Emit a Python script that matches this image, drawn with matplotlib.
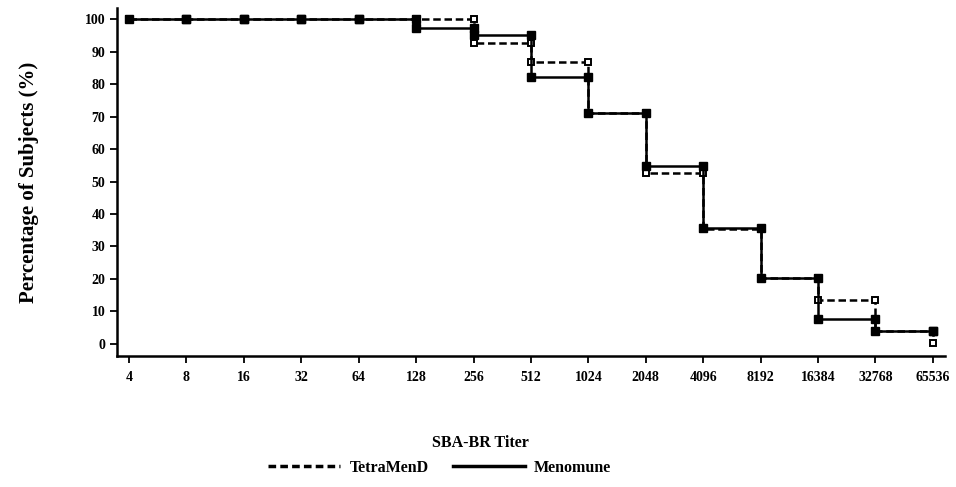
import matplotlib.pyplot as plt
from matplotlib.lines import Line2D
import numpy as np

# titres (axe x categoriel) et pourcentages
titers = ['4', '8', '16', '32', '64', '128', '256', '512', '1024', '2048',
          '4096', '8192', '16384', '32768', '65536']
menomune = [100, 100, 100, 100, 100, 97.3, 95.0, 82.2, 71.0, 54.8, 35.7, 20.3, 7.6, 4.0, 4.0]
tetramend = [100, 100, 100, 100, 100, 100, 92.5, 86.7, 71.0, 52.6, 35.5, 20.3, 13.6, 4.0, 0.3]
y_ticks = [0, 10, 20, 30, 40, 50, 60, 70, 80, 90, 100]


def step_points(values):
    # coins de la courbe en escalier (un marqueur a chaque coin)
    xs, ys = [], []
    for i, v in enumerate(values[:-1]):
        xs += [i, i + 1]
        ys += [v, v]
    xs.append(len(values) - 1)
    ys.append(values[-1])
    return np.array(xs), np.array(ys)


plt.rcParams['font.family'] = 'Liberation Serif'
plt.rcParams['font.weight'] = 'bold'

fig = plt.figure(figsize=(9.56, 4.87), dpi=100)
ax = fig.add_axes([0.1224, 0.269, 0.866, 0.7146])

xt, yt = step_points(tetramend)
xm, ym = step_points(menomune)
ax.plot(xt, yt, color='black', lw=1.8, ls=(0, (3, 1.5)), marker='s', ms=5,
        mfc='white', mec='black', mew=1.4, zorder=3)
ax.plot(xm, ym, color='black', lw=1.8, ls='-', marker='s', ms=6,
        mfc='black', mec='black', zorder=4)

ax.set_xlim(-0.21, 14.21)
ax.set_ylim(-3.7, 103.4)
ax.set_xticks(range(len(titers)))
ax.set_xticklabels(titers)
ax.set_yticks(y_ticks)
ax.set_yticklabels([str(v) for v in y_ticks])

for s in ['top', 'right']:
    ax.spines[s].set_visible(False)
for s in ['left', 'bottom']:
    ax.spines[s].set_linewidth(1.8)
ax.tick_params(axis='both', direction='out', length=5, width=1.3, labelsize=10)
ax.tick_params(axis='x', pad=6)

ax.set_ylabel('Percentage of Subjects (%)', fontsize=15, fontweight='bold', labelpad=33)

fig.text(0.503, 0.09, 'SBA-BR Titer', ha='center', va='center', fontsize=11.5, fontweight='bold')
handles = [Line2D([], [], color='black', lw=2.5, ls=(0, (2.2, 1.2))),
           Line2D([], [], color='black', lw=2.5, ls='-')]
fig.legend(handles, ['TetraMenD', 'Menomune'], loc='center', bbox_to_anchor=(0.46, 0.04),
           ncol=2, frameon=False, handlelength=4.5, fontsize=11.5,
           columnspacing=1.5, handletextpad=0.6)

plt.savefig('out.png', dpi=100)
